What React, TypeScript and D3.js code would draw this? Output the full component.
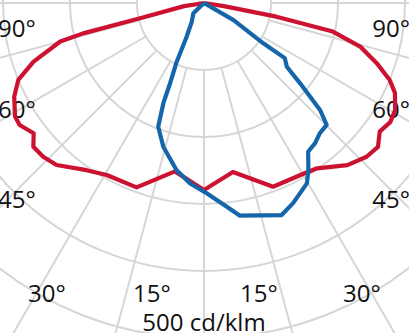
import React from "react";
import * as d3 from "d3";

// C0-C180 plane (red), gamma angle in degrees (negative = left), cd/klm
const redAngles = [-90, -81, -76.6, -75.9, -75, -71, -67.5, -63.7, -59, -56.5, -52.6, -49.9, -46.3, -42.3, -35.1, -29.5, -20.1, -9.8, 0, 9.7, 20.6, 30.4, 34.4, 41.5, 46.6, 50.4, 53.8, 57.4, 60.7, 64.8, 67.5, 70.8, 74.4, 77.5, 79.3, 81, 90];
const redValues = [0, 30, 98, 186, 222, 269, 300, 316, 329, 330, 320, 333, 332, 327, 305, 295, 293, 255, 279, 256, 293, 295, 299, 323, 334, 337, 325, 330, 327, 315, 300, 273, 242, 197, 110, 30, 0];

// C90-C270 plane (blue)
const blueAngles = [-60, -46, -33.3, -27.2, -24.9, -22.9, -22.1, -20.3, -15.8, -9.3, -4.4, 0.8, 6.4, 9.6, 20.1, 24, 29.7, 32, 35, 38.4, 41.7, 45.2, 47.3, 50.1, 52.4, 55.7, 55.8, 59.9, 70];
const blueValues = [0, 22, 33, 57, 97, 130, 161, 197, 223, 253, 270, 284, 306, 322, 337, 327, 310, 294, 271, 267, 260, 258, 236, 187, 156, 146, 107, 51, 0];

const ringValues = [100, 200, 300, 400, 500];
const spokeAngles = d3.range(-90, 91, 15);

const sideLabels = ["90°", "60°", "45°"];
const bottomLabels = ["30°", "15°", "15°", "30°"];
const unitLabel = "500 cd/klm";

const W = 409;
const H = 333;
const cx = 204;
const cy = 3;

export default function App() {
  const r = d3.scaleLinear().domain([0, 500]).range([0, 335]);
  // gamma 0 points straight down from the luminaire
  const toRad = (deg: number) => Math.PI - (deg * Math.PI) / 180;

  const curve = (angles: number[], values: number[]) =>
    d3
      .lineRadial<[number, number]>()
      .angle((d) => toRad(d[0]))
      .radius((d) => r(d[1]))(angles.map((a, i) => [a, values[i]]));

  const font = "'Open Sans', sans-serif";
  const sideY = [37, 118, 208];
  const bottomX = [28, 133, 240, 343];

  return (
    <svg
      width={W}
      height={H}
      style={{ position: "absolute", left: 0, top: 0, background: "#fff" }}
    >
      <g transform={`translate(${cx},${cy})`}>
        {ringValues.map((v) => (
          <circle key={v} r={r(v)} fill="none" stroke="#d6d6d6" strokeWidth={2} />
        ))}
        {spokeAngles.map((a) => {
          const t = toRad(a);
          const r0 = r(100);
          const r1 = r(700);
          return (
            <line
              key={a}
              x1={r0 * Math.sin(t)}
              y1={-r0 * Math.cos(t)}
              x2={r1 * Math.sin(t)}
              y2={-r1 * Math.cos(t)}
              stroke="#d6d6d6"
              strokeWidth={2}
            />
          );
        })}
      </g>

      <g fontFamily={font} fontSize={24} fill="#111">
        {sideLabels.map((t, i) => (
          <g key={t}>
            <text x={-2} y={sideY[i]}>{t}</text>
            <text x={410} y={sideY[i]} textAnchor="end">{t}</text>
          </g>
        ))}
        {bottomLabels.map((t, i) => (
          <text key={i} x={bottomX[i]} y={302}>{t}</text>
        ))}
        <text x={cx} y={331} textAnchor="middle">{unitLabel}</text>
      </g>

      <g transform={`translate(${cx},${cy})`} fill="none" strokeWidth={4.2} strokeLinejoin="round">
        <path d={curve(redAngles, redValues) || ""} stroke="#cc1230" />
        <path d={curve(blueAngles, blueValues) || ""} stroke="#1565aa" />
      </g>
    </svg>
  );
}
